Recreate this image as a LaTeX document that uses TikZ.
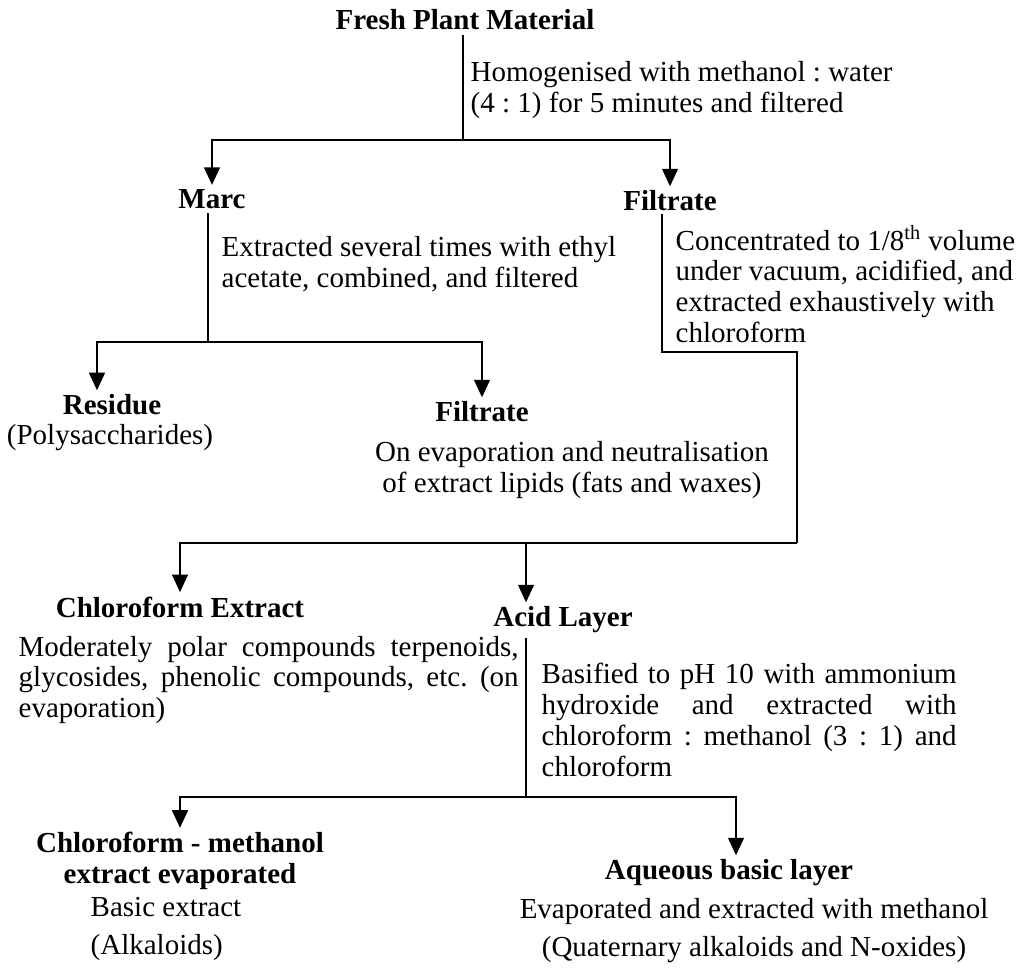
\documentclass[tikz,border=0pt]{standalone}
\usepackage{fontspec}
\setmainfont{Liberation Serif}
\usepackage{tikz}
\usetikzlibrary{calc, arrows.meta}
\frenchspacing
\newcommand{\fs}{\fontsize{16.5}{17.6}\selectfont}
\tikzstyle{head} = [font=\fs\bfseries, inner sep=2pt, align=center]
\tikzstyle{note} = [font=\fs, inner sep=1pt, align=left]
\tikzstyle{jnote} = [font=\fs, inner sep=1pt, align=justify, anchor=west]
\tikzstyle{arr} = [-{Triangle[width=9pt,length=10pt]}]

\begin{document}
\begin{tikzpicture}[x=0.02cm, y=-0.02cm, line width=1.1pt]
        \useasboundingbox (0,0) rectangle (1021,971);
        \node (fresh) [head] at (465,20) {Fresh Plant Material};
        \node (homog) [note, anchor=west] at (468,90) {Homogenised with methanol : water\\(4 : 1) for 5 minutes and filtered};
        \node (marc) [head] at (212,199) {Marc};
        \node (filtA) [head] at (670,201) {Filtrate};
        \node (marcN) [note, anchor=west] at (219,264) {Extracted several times with ethyl\\acetate, combined, and filtered};
        \node (filtN) [note, anchor=west] at (673,284) {Concentrated to 1/8\textsuperscript{th} volume\\under vacuum, acidified, and\\extracted exhaustively with\\chloroform};
        \node (resid) [head] at (112,405) {Residue};
        \node (poly) [note] at (110,438) {(Polysaccharides)};
        \node (filtB) [head] at (482,412) {Filtrate};
        \node (lipid) [note, align=center] at (572,470) {On evaporation and neutralisation\\of extract lipids (fats and waxes)};
        \node (chlor) [head] at (180,607) {Chloroform Extract};
        \node (chlorN) [jnote, text width=10cm] at (16,680) {Moderately polar compounds terpenoids,\linebreak glycosides, phenolic compounds, etc. (on\linebreak evaporation)};
        \node (acid) [head] at (563,620) {Acid Layer};
        \node (acidN) [jnote, text width=8.3cm] at (539,720) {Basified to pH 10 with ammonium\linebreak hydroxide and extracted with\linebreak chloroform : methanol (3 : 1) and\linebreak chloroform};
        \node (cme) [head] at (180,861) {Chloroform - methanol\\extract evaporated};
        \node (basic) [note, anchor=west] at (88,929) {Basic extract\\[4pt](Alkaloids)};
        \node (aqua) [head] at (729,873) {Aqueous basic layer};
        \node (evap) [note, align=center] at (754,931) {Evaporated and extracted with methanol\\[4pt](Quaternary alkaloids and N-oxides)};
        \coordinate (j1) at (463,140);
        \coordinate (j2) at (208,342);
        \coordinate (k1) at (797,352);
        \coordinate (k2) at (797,543);
        \coordinate (j3) at (526,543);
        \coordinate (j4) at (526,797);
        \draw (j1 |- fresh.south) -- (j1);
        \draw[arr] (j1) -| (marc.north);
        \draw[arr] (j1) -| (filtA.north);
        \draw (j2 |- marc.south) -- (j2);
        \draw[arr] (j2) -| ($(resid.north)+(-15,0)$);
        \draw[arr] (j2) -| (filtB.north);
        \draw ($(filtA.south)+(-8,-2)$) |- (k1) -- (k2);
        \draw[arr] (k2) -| (chlor.north);
        \draw[arr] (j3) -- (j3 |- acid.north);
        \draw (j3 |- acid.south) -- (j4);
        \draw[arr] (j4) -| (cme.north);
        \draw[arr] (j4) -| ($(aqua.north)+(7,0)$);
    \end{tikzpicture}
\end{document}
